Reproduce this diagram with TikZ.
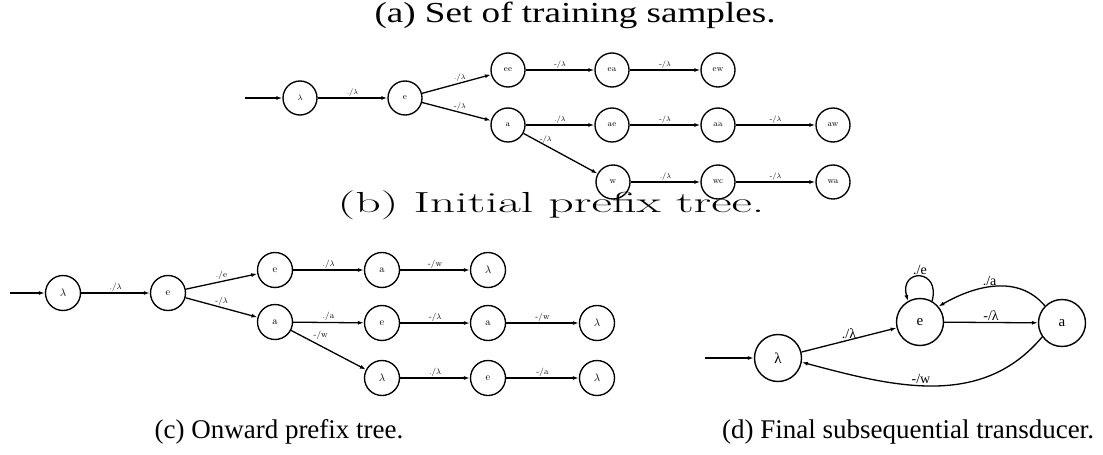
\documentclass[tikz,border=0pt]{standalone}
\usepackage{fontspec}
\newfontfamily\capfont{Liberation Serif}
\newfontfamily\cmfont{Latin Modern Roman}
\usetikzlibrary{arrows.meta}
\begin{document}
\begin{tikzpicture}[x=1pt,y=1pt,
  sm/.style={circle,draw,line width=1.35pt,minimum size=34pt,inner sep=0pt,font=\cmfont\fontsize{8.5}{9}\selectfont},
  md/.style={circle,draw,line width=1.35pt,minimum size=35pt,inner sep=0pt,font=\cmfont\fontsize{10.5}{11}\selectfont},
  bg/.style={circle,draw,line width=1.4pt,minimum size=47pt,inner sep=0pt,font=\capfont\fontsize{15}{17}\selectfont},
  ar/.style={-{Latex[length=6pt,width=4pt]},line width=1.3pt},
  lb/.style={font=\cmfont\fontsize{7.5}{8}\selectfont,inner sep=1pt},
  lc/.style={font=\cmfont\fontsize{8.5}{9}\selectfont,inner sep=1pt},
  ld/.style={font=\capfont\fontsize{14}{16}\selectfont,inner sep=1pt},
  captext/.style={font=\capfont\fontsize{27}{30}\selectfont,inner sep=0pt}]
\useasboundingbox (0,-455) rectangle (1103,0);
% captions
\node[font=\capfont\fontsize{29}{31}\selectfont,inner sep=0pt,xscale=1.28] (capa) at (575,-15) {(a) Set of training samples.};
\node[font=\cmfont\fontsize{29}{31}\selectfont,inner sep=0pt,xscale=1.72] (capb) at (551,-205) {(b) Initial prefix tree.};
\node[captext] (capc) at (279,-432) {(c) Onward prefix tree.};
\node[captext] (capd) at (908,-432) {(d) Final subsequential transducer.};
% (b) initial prefix tree
\coordinate (bi) at (245,-98);
\node[sm] (bl) at (300,-98) {$\lambda$};
\node[sm] (be) at (405,-98) {e};
\node[sm] (bee) at (508,-70) {ee};
\node[sm] (ba) at (508,-125) {a};
\node[sm] (bea) at (612,-70) {ea};
\node[sm] (bew) at (718,-70) {ew};
\node[sm] (bae) at (612,-125) {ae};
\node[sm] (baa) at (718,-125) {aa};
\node[sm] (baw) at (833,-125) {aw};
\node[sm] (bw) at (613,-182) {w};
\node[sm] (bwc) at (718,-182) {wc};
\node[sm] (bwa) at (833,-182) {wa};
\draw[ar] (bi) -- (bl);
\draw[ar] (bl) -- node[lb,above]{./$\lambda$} (be);
\draw[ar] (be) -- node[lb,above,pos=0.55]{./$\lambda$} (bee);
\draw[ar] (be) -- node[lb,above,pos=0.55]{-/$\lambda$} (ba);
\draw[ar] (bee) -- node[lb,above]{-/$\lambda$} (bea);
\draw[ar] (bea) -- node[lb,above]{-/$\lambda$} (bew);
\draw[ar] (ba) -- node[lb,above]{./$\lambda$} (bae);
\draw[ar] (ba) -- node[lb,above,pos=0.3]{-/$\lambda$} (bw);
\draw[ar] (bae) -- node[lb,above]{-/$\lambda$} (baa);
\draw[ar] (baa) -- node[lb,above]{-/$\lambda$} (baw);
\draw[ar] (bw) -- node[lb,above]{./$\lambda$} (bwc);
\draw[ar] (bwc) -- node[lb,above]{-/$\lambda$} (bwa);
% (c) onward prefix tree
\coordinate (ci) at (10,-293);
\node[md] (cl0) at (63,-293) {$\lambda$};
\node[md] (ce1) at (168,-293) {e};
\node[md] (ce2) at (275,-270) {e};
\node[md] (ca2) at (275,-322) {a};
\node[md] (ca3) at (382,-270) {a};
\node[md] (cl4) at (488,-270) {$\lambda$};
\node[md] (ce3) at (382,-323) {e};
\node[md] (ca4) at (488,-323) {a};
\node[md] (cl5) at (597,-323) {$\lambda$};
\node[md] (cl3) at (382,-378) {$\lambda$};
\node[md] (ce4) at (488,-378) {e};
\node[md] (cl6) at (597,-378) {$\lambda$};
\draw[ar] (ci) -- (cl0);
\draw[ar] (cl0) -- node[lc,above]{./$\lambda$} (ce1);
\draw[ar] (ce1) -- node[lc,above,pos=0.5]{./e} (ce2);
\draw[ar] (ce1) -- node[lc,above,pos=0.5]{-/$\lambda$} (ca2);
\draw[ar] (ce2) -- node[lc,above]{./$\lambda$} (ca3);
\draw[ar] (ca3) -- node[lc,above]{-/w} (cl4);
\draw[ar] (ca2) -- node[lc,above]{./a} (ce3);
\draw[ar] (ce3) -- node[lc,above]{-/$\lambda$} (ca4);
\draw[ar] (ca4) -- node[lc,above]{-/w} (cl5);
\draw[ar] (ca2) -- node[lc,above right,pos=0.28]{-/w} (cl3);
\draw[ar] (cl3) -- node[lc,above]{./$\lambda$} (ce4);
\draw[ar] (ce4) -- node[lc,above]{-/a} (cl6);
% (d) final subsequential transducer
\coordinate (di) at (705,-358);
\node[bg] (dl) at (778,-358) {λ};
\node[bg] (de) at (920,-322) {e};
\node[bg] (da) at (1062,-323) {a};
\draw[ar] (di) -- (dl);
\draw[ar] (dl) -- node[ld,above,pos=0.5]{./λ} (de);
\draw[ar] (de) -- node[ld,above]{-/λ} (da);
\draw[ar] (de.60) .. controls +(75:34) and +(105:34) .. node[ld,above]{./e} (de.120);
\draw[ar] (da.135) to[out=130,in=30] node[ld,above,pos=0.55]{./a} (de.40);
\draw[ar] (da.215) to[out=230,in=-15] node[ld,above,pos=0.55]{-/w} (dl.-10);
\end{tikzpicture}
\end{document}
